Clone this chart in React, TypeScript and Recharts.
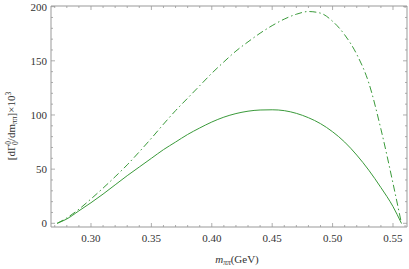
import React from "react";
import { LineChart, Line, XAxis, YAxis, Customized } from "recharts";

const mPiPi = [0.272, 0.28, 0.29, 0.3, 0.31, 0.32, 0.33, 0.34, 0.35, 0.36, 0.37, 0.38, 0.39, 0.4, 0.41, 0.42, 0.43, 0.44, 0.45, 0.46, 0.47, 0.48, 0.49, 0.5, 0.51, 0.52, 0.53, 0.54, 0.55, 0.557];
const solidSeries = [0, 4, 11.5, 19, 27, 35.5, 44, 52, 60, 68, 75, 82, 88, 93.5, 98, 101.3, 103.5, 104.6, 104.8, 104, 101.5, 97.5, 92, 84.5, 75, 63, 49, 33, 15.5, 0];
const dashSeries = [0, 5, 13, 22.5, 32.5, 43, 54, 66, 78.5, 91.5, 104, 115.5, 127, 138.5, 149, 159, 167.5, 175.5, 182.5, 188.5, 193, 195.5, 194, 186.5, 174, 156, 129.5, 87, 37, 0];
const xTicks = [0.27, 0.28, 0.29, 0.3, 0.31, 0.32, 0.33, 0.34, 0.35, 0.36, 0.37, 0.38, 0.39, 0.4, 0.41, 0.42, 0.43, 0.44, 0.45, 0.46, 0.47, 0.48, 0.49, 0.5, 0.51, 0.52, 0.53, 0.54, 0.55, 0.56];
const yTicks = [0, 10, 20, 30, 40, 50, 60, 70, 80, 90, 100, 110, 120, 130, 140, 150, 160, 170, 180, 190, 200];

const data = mPiPi.map((m, i) => ({ m, solid: solidSeries[i], dash: dashSeries[i] }));

const GREEN = "#3a9a3a";
const AXIS = "#999999";
const FONT = "'Liberation Serif', 'Times New Roman', serif";
const textStyle = { fontFamily: FONT };

const isMajorX = (v: number) => Math.round(v * 100) % 5 === 0;
const isMajorY = (v: number) => Math.round(v) % 50 === 0;

const XTick = (props: any) => {
  const { x, y, payload, side } = props;
  const major = isMajorX(payload.value);
  const len = major ? 4 : 2;
  const dir = side === "top" ? 1 : -1;
  return (
    <g>
      <line x1={x} x2={x} y1={y} y2={y + dir * len} stroke={AXIS} strokeWidth={0.8} />
      {side !== "top" && major ? (
        <text x={x} y={y + 15} textAnchor="middle" style={textStyle} fontSize={11} fill="#333">
          {payload.value.toFixed(2)}
        </text>
      ) : null}
    </g>
  );
};

const YTick = (props: any) => {
  const { x, y, payload, side } = props;
  const major = isMajorY(payload.value);
  const len = major ? 4 : 2;
  const dir = side === "right" ? -1 : 1;
  return (
    <g>
      <line x1={x} x2={x + dir * len} y1={y} y2={y} stroke={AXIS} strokeWidth={0.8} />
      {side !== "right" && major ? (
        <text x={x - 4} y={y + 4} textAnchor="end" style={textStyle} fontSize={11} fill="#333">
          {payload.value}
        </text>
      ) : null}
    </g>
  );
};

const Titles = () => (
  <g style={textStyle} fill="#333">
    <text x={237} y={263} textAnchor="middle" fontSize={11} style={textStyle}>
      <tspan fontStyle="italic">m</tspan>
      <tspan fontSize={7.5} dy={2} fontStyle="italic">ππ</tspan>
      <tspan dy={-2}>(GeV)</tspan>
    </text>
    <text transform="translate(15,126) rotate(-90)" textAnchor="middle" fontSize={11} style={textStyle}>
      <tspan>[dΓ</tspan>
      <tspan fontSize={7.5} dy={-4}>0</tspan>
      <tspan fontSize={7.5} dx={-4} dy={7}>0</tspan>
      <tspan dy={-3}>/dm</tspan>
      <tspan fontSize={7.5} dy={2}>ππ</tspan>
      <tspan dy={-2}>]×10</tspan>
      <tspan fontSize={7.5} dy={-4}>3</tspan>
    </text>
  </g>
);

export default function App() {
  return (
    <div style={{ position: "absolute", left: 0, top: 0, background: "#fff" }}>
      <LineChart width={409} height={269} data={data} margin={{ top: 5, right: 1, left: 50, bottom: 41 }}>
        <XAxis
          xAxisId="b"
          dataKey="m"
          type="number"
          domain={[0.2669, 0.5616]}
          ticks={xTicks}
          height={1}
          tickSize={0}
          tickMargin={0}
          axisLine={{ stroke: AXIS }}
          tickLine={false}
          tick={<XTick side="bottom" />}
          interval={0}
          allowDataOverflow
        />
        <XAxis
          xAxisId="t"
          orientation="top"
          dataKey="m"
          type="number"
          domain={[0.2669, 0.5616]}
          ticks={xTicks}
          height={1}
          tickSize={0}
          tickMargin={0}
          axisLine={{ stroke: AXIS }}
          tickLine={false}
          tick={<XTick side="top" />}
          interval={0}
          allowDataOverflow
        />
        <YAxis
          yAxisId="l"
          type="number"
          domain={[-3.4, 200.6]}
          ticks={yTicks}
          width={1}
          tickSize={0}
          tickMargin={0}
          axisLine={{ stroke: AXIS }}
          tickLine={false}
          tick={<YTick side="left" />}
          interval={0}
          allowDataOverflow
        />
        <YAxis
          yAxisId="r"
          orientation="right"
          type="number"
          domain={[-3.4, 200.6]}
          ticks={yTicks}
          width={1}
          tickSize={0}
          tickMargin={0}
          axisLine={{ stroke: AXIS }}
          tickLine={false}
          tick={<YTick side="right" />}
          interval={0}
          allowDataOverflow
        />
        <Line
          xAxisId="b"
          yAxisId="l"
          type="monotone"
          dataKey="dash"
          stroke={GREEN}
          strokeWidth={1}
          strokeDasharray="7 3 1.5 3"
          dot={false}
          isAnimationActive={false}
        />
        <Line
          xAxisId="b"
          yAxisId="l"
          type="monotone"
          dataKey="solid"
          stroke={GREEN}
          strokeWidth={1}
          dot={false}
          isAnimationActive={false}
        />
        <Customized component={Titles} />
      </LineChart>
    </div>
  );
}
